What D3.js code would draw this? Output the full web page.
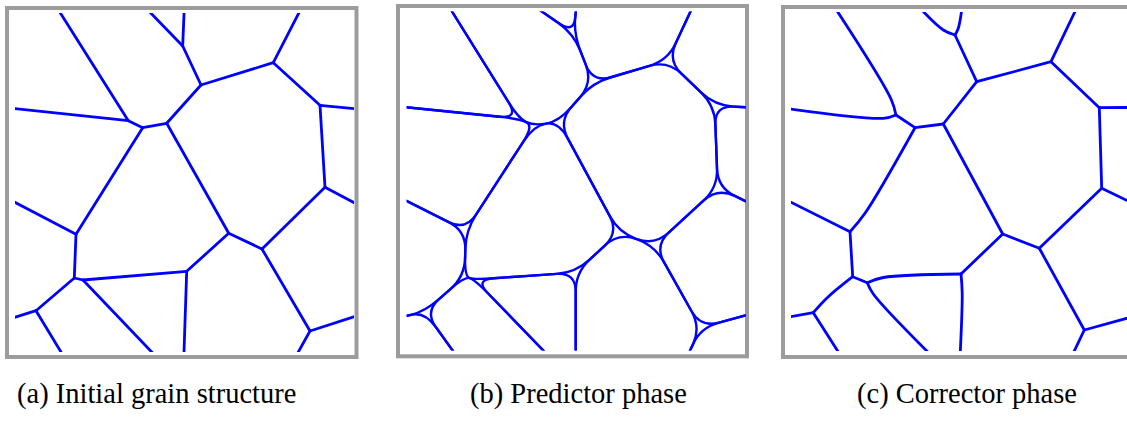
<!DOCTYPE html>
<html>
<head>
<meta charset="utf-8">
<script src="https://cdn.jsdelivr.net/npm/d3@7"></script>
<style>
body { margin: 0; background: #fff; }
svg { display: block; }
</style>
</head>
<body>
<div id="graphicContainer"></div>
<script>
// grain junctions, local units (drawing area 0..339 x 0..338)
var nodesA = [
  ["A", 113.3, 106.7], ["B", 127.7, 113.7], ["C", 151.7, 109.3], ["D", 186, 71],
  ["E", 167.7, 32], ["F", 258.3, 48.7], ["G", 305, 91.3], ["H", 310, 173.3],
  ["I", 247, 235], ["J", 213.7, 219.3], ["K", 171.7, 257.3], ["L", 61, 220.3],
  ["M", 59.3, 264], ["M2", 68, 266], ["N", 21, 296.7], ["O", 295, 317]
]

// predictor phase: same network, a few junctions moved
var nodesB = [
  ["A", 112, 106], ["B", 127, 113], ["C", 152, 109], ["D", 186, 70],
  ["E", 167, 21], ["F", 261, 48], ["G", 308, 93], ["H", 311, 175],
  ["I", 248, 233], ["J", 212, 220], ["K", 169, 260], ["L", 59, 218],
  ["M", 58, 264], ["M2", 68, 267], ["N", 18, 299], ["O", 294, 315]
]

var nodesC = [
  ["A", 105, 102], ["B", 124, 114.7], ["C", 152.3, 111], ["D", 185.7, 68.7],
  ["E", 164, 22], ["F", 260, 48.7], ["G", 308.3, 94.7], ["H", 310.7, 175.3],
  ["I", 248.3, 235.3], ["J", 211.7, 221], ["K", 170, 261], ["L", 59, 218.7],
  ["M", 61.7, 263.7], ["M2", 76.3, 269.7], ["N", 22.3, 299.7], ["O", 293.3, 317]
]

// where boundaries leave the frame
var exitsA = [
  ["tA", 46, 0], ["lA", 0, 94.7], ["tE1", 169, 0], ["tE2", 136.7, 0], ["tF", 283.3, 0],
  ["rG", 339, 94.7], ["rH", 339, 188.7], ["bK", 169, 338], ["lL", 0, 188.3],
  ["bM2", 136.7, 338], ["lN", 0, 303.3], ["bN", 46, 338], ["rO", 339, 302.7], ["bO", 283.3, 338]
]

var exitsC = [
  ["tA", 46.7, 0], ["lA", 0, 95.3], ["tE1", 169.3, 0], ["tE2", 135.7, 0], ["tF", 283.3, 0],
  ["rG", 339, 94.5], ["rH", 339, 189], ["bK", 169, 338], ["lL", 0, 189.3],
  ["bM2", 136.7, 338], ["lN", 0, 303.7], ["bN", 46.7, 338], ["rO", 339, 304.5], ["bO", 283.3, 338]
]

var corners = [["TL", -30, -30], ["TR", 370, -30], ["BR", 370, 370], ["BL", -30, 370]]

var edges = [
  ["A", "tA"], ["A", "lA"], ["A", "B"], ["B", "C"], ["B", "L"], ["C", "D"], ["C", "J"],
  ["D", "E"], ["D", "F"], ["E", "tE1"], ["E", "tE2"], ["F", "tF"], ["F", "G"],
  ["G", "rG"], ["G", "H"], ["H", "rH"], ["H", "I"], ["I", "J"], ["I", "O"], ["J", "K"],
  ["K", "bK"], ["K", "M2"], ["L", "lL"], ["L", "M"], ["M", "M2"], ["M", "N"],
  ["M2", "bM2"], ["N", "lN"], ["N", "bN"], ["O", "rO"], ["O", "bO"]
]

// corrector phase bends: edge -> intermediate point
var bendsC = [
  ["A", "tA", 100, 86], ["A", "lA", 92.3, 105.3], ["B", "L", 74, 200.3],
  ["K", "M2", 92.3, 264.5], ["M2", "bM2", 82.3, 281], ["E", "tE2", 152.3, 17],
  ["E", "tE1", 167.3, 15.3], ["K", "bK", 171.2, 280.3], ["M", "N", 37, 284]
]

// grains of the predictor phase, walked round their boundaries
var grains = [
  ["TL", "tA", "A", "lA"],
  ["tA", "tE2", "E", "D", "C", "B", "A"],
  ["tE2", "tE1", "E"],
  ["tE1", "tF", "F", "D", "E"],
  ["tF", "TR", "rG", "G", "F"],
  ["rG", "rH", "H", "G"],
  ["D", "F", "G", "H", "I", "J", "C"],
  ["lA", "A", "B", "L", "lL"],
  ["B", "C", "J", "K", "M2", "M", "L"],
  ["lL", "L", "M", "N", "lN"],
  ["rH", "rO", "O", "I", "H"],
  ["J", "I", "O", "bO", "bK", "K"],
  ["K", "bK", "bM2", "M2"],
  ["M", "M2", "bM2", "bN", "N"],
  ["lN", "N", "bN", "BL"],
  ["rO", "BR", "bO", "O"]
]

var captions = ["(a) Initial grain structure", "(b) Predictor phase", "(c) Corrector phase"]

var blue = "#0000ff"
var W = 1127, H = 422

var svg = d3.select("#graphicContainer").append("svg")
  .attr("width", W)
  .attr("height", H)

var defs = svg.append("defs")

function lookup(interior, exits) {
  var pos = {}
  interior.forEach(d => pos[d[0]] = { x: d[1], y: d[2], inner: true })
  exits.forEach(d => pos[d[0]] = { x: d[1], y: d[2], inner: false })
  corners.forEach(d => pos[d[0]] = { x: d[1], y: d[2], inner: false })
  // push frame exits a little outside so clipping cuts them cleanly
  exits.forEach(function(d) {
    var e = edges.find(a => a[0] == d[0] || a[1] == d[0])
    var other = pos[e[0] == d[0] ? e[1] : e[0]]
    var p = pos[d[0]]
    var dx = p.x - other.x, dy = p.y - other.y, len = Math.hypot(dx, dy)
    p.x += dx / len * 10
    p.y += dy / len * 10
  })
  return pos
}

function panel(i, frame, origin) {
  var g = svg.append("g")

  var x = d3.scaleLinear().domain([0, 339]).range([origin[0], origin[0] + 339])
  var y = d3.scaleLinear().domain([0, 338]).range([origin[1], origin[1] + 338])

  defs.append("clipPath").attr("id", "clip" + i)
    .append("rect")
    .attr("x", x(0))
    .attr("y", y(-1))
    .attr("width", x(339) - x(0))
    .attr("height", y(338) - y(-1))

  g.append("rect")
    .attr("x", frame[0])
    .attr("y", frame[1])
    .attr("width", frame[2])
    .attr("height", frame[3])
    .attr("fill", "white")
    .attr("stroke", "#9c9c9c")
    .attr("stroke-width", 4)

  var inner = g.append("g").attr("clip-path", "url(#clip" + i + ")")
  return { g: inner, x: x, y: y }
}

// (a) straight boundaries
var pa = panel(0, [7, 8, 349.5, 349], [15, 14])
var posA = lookup(nodesA, exitsA)
pa.g.selectAll("line")
  .data(edges)
  .enter()
  .append("line")
  .attr("x1", d => pa.x(posA[d[0]].x))
  .attr("y1", d => pa.y(posA[d[0]].y))
  .attr("x2", d => pa.x(posA[d[1]].x))
  .attr("y2", d => pa.y(posA[d[1]].y))
  .attr("stroke", blue)
  .attr("stroke-width", 2.8)
  .attr("stroke-linecap", "round")

// (b) each grain drawn on its own with rounded corners
var pb = panel(1, [398, 6, 349, 350.3], [406.7, 12.6])
var posB = lookup(nodesB, exitsA)
var cut = 19

function grainPath(ids) {
  var pts = ids.map(id => posB[id])
  var n = pts.length
  var p = d3.path()
  var last = pts[n - 1], first = pts[0]
  p.moveTo(pb.x((last.x + first.x) / 2), pb.y((last.y + first.y) / 2))
  pts.forEach(function(c, k) {
    if (!c.inner) { p.lineTo(pb.x(c.x), pb.y(c.y)); return }
    var a = pts[(k - 1 + n) % n], b = pts[(k + 1) % n]
    var la = Math.hypot(a.x - c.x, a.y - c.y), lb = Math.hypot(b.x - c.x, b.y - c.y)
    var da = Math.min(cut, la * 0.5), db = Math.min(cut, lb * 0.5)
    p.lineTo(pb.x(c.x + (a.x - c.x) * da / la), pb.y(c.y + (a.y - c.y) * da / la))
    p.quadraticCurveTo(pb.x(c.x), pb.y(c.y),
      pb.x(c.x + (b.x - c.x) * db / lb), pb.y(c.y + (b.y - c.y) * db / lb))
  })
  p.closePath()
  return p.toString()
}

pb.g.selectAll("path")
  .data(grains)
  .enter()
  .append("path")
  .attr("d", grainPath)
  .attr("fill", "none")
  .attr("stroke", blue)
  .attr("stroke-width", 2.4)
  .attr("stroke-linejoin", "round")

// (c) boundaries relaxed, slightly bent near junctions
var pc = panel(2, [783, 7, 360, 350], [791, 13])
var posC = lookup(nodesC, exitsC)
var bendLine = d3.line()
  .x(d => pc.x(d.x))
  .y(d => pc.y(d.y))
  .curve(d3.curveCatmullRom.alpha(0.5))

pc.g.selectAll("path")
  .data(edges)
  .enter()
  .append("path")
  .attr("d", function(d) {
    var pts = [posC[d[0]]]
    var bend = bendsC.find(b => b[0] == d[0] && b[1] == d[1])
    if (bend) pts.push({ x: bend[2], y: bend[3] })
    pts.push(posC[d[1]])
    return bendLine(pts)
  })
  .attr("fill", "none")
  .attr("stroke", blue)
  .attr("stroke-width", 2.8)
  .attr("stroke-linecap", "round")

var captionX = [17, 470, 857]
svg.selectAll("text.caption")
  .data(captions)
  .enter()
  .append("text")
  .attr("class", "caption")
  .attr("x", (d, i) => captionX[i])
  .attr("y", 403)
  .attr("font-family", "'Liberation Serif', 'Times New Roman', serif")
  .attr("font-size", 28.5)
  .attr("fill", "#000")
  .text(d => d)
</script>
</body>
</html>
